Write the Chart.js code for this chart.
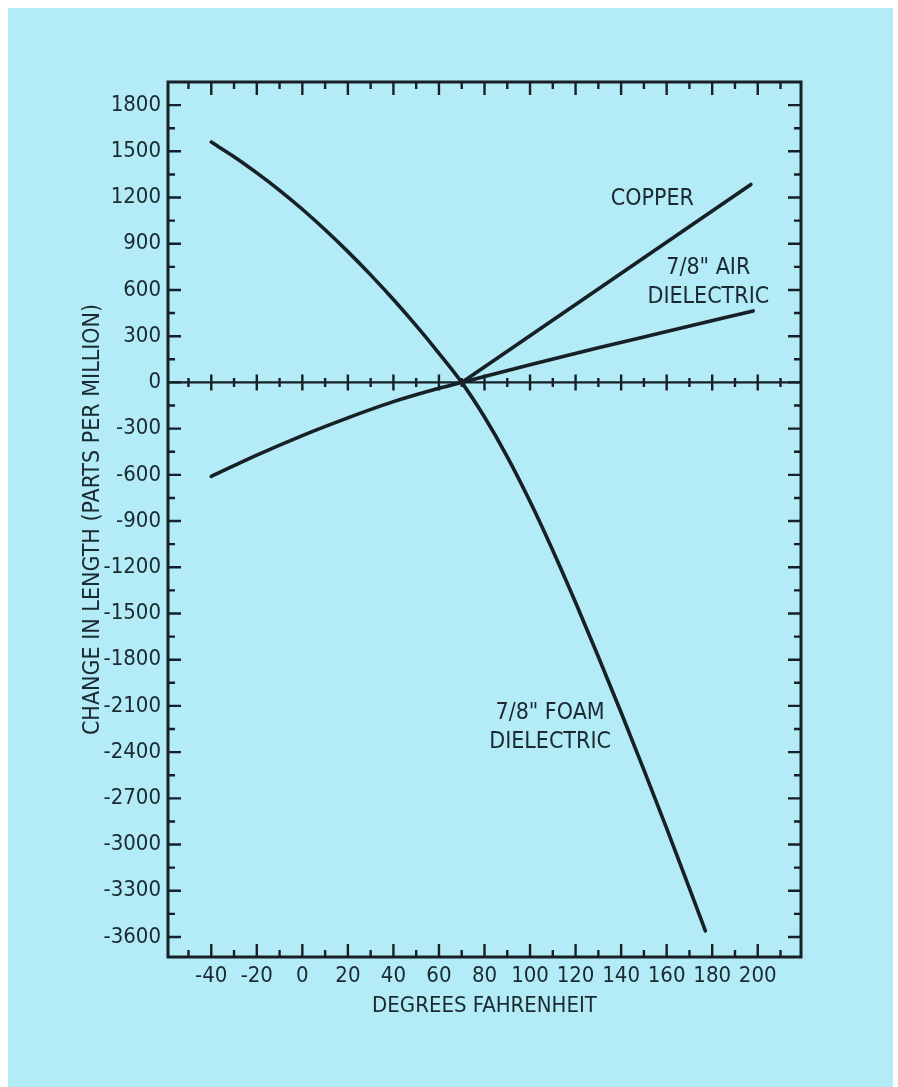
<!DOCTYPE html>
<html>
<head>
<meta charset="utf-8">
<script src="https://cdn.jsdelivr.net/npm/chart.js@4.4.1/dist/chart.umd.min.js"></script>
<style>
  html, body { margin: 0; padding: 0; background: #ffffff; }
  #wrap { width: 898px; height: 1087px; position: relative; }
  canvas { display: block; }
</style>
</head>
<body>
<div id="wrap"><canvas id="c" width="898" height="1087"></canvas></div>
<script>
// Temperature (°F) and change in length (parts per million), referenced to 70 °F
const foamTemps = [-40, -30, -20, -10, 0, 10, 20, 30, 40, 50, 60, 70, 80, 90, 100, 110, 120, 130, 140, 150, 160, 170, 177];
const foamPpm   = [1560, 1465, 1360, 1247, 1124, 991, 849, 698, 538, 368, 189, 0, -225, -483, -773, -1091, -1429, -1781, -2143, -2515, -2895, -3285, -3560];

const copperTemps = [70, 197];
const copperPpm   = [0, 1285];

const airTemps = [-40, -20, 0, 20, 40, 60, 70, 100, 130, 160, 198];
const airPpm   = [-610, -472, -345, -230, -125, -38, 0, 115, 225, 330, 464];

// Labelled tick values
const xLabelValues = [-40, -20, 0, 20, 40, 60, 80, 100, 120, 140, 160, 180, 200];
const yLabelValues = [1800, 1500, 1200, 900, 600, 300, 0, -300, -600, -900, -1200, -1500, -1800,
                      -2100, -2400, -2700, -3000, -3300, -3600];
// All tick marks (labelled and minor)
const xTickMarks = [-50, -40, -30, -20, -10, 0, 10, 20, 30, 40, 50, 60, 70, 80, 90, 100,
                    110, 120, 130, 140, 150, 160, 170, 180, 190, 200, 210];
const yTickMarks = [1800, 1650, 1500, 1350, 1200, 1050, 900, 750, 600, 450, 300, 150, 0,
                    -150, -300, -450, -600, -750, -900, -1050, -1200, -1350, -1500, -1650, -1800,
                    -1950, -2100, -2250, -2400, -2550, -2700, -2850, -3000, -3150, -3300, -3450, -3600];

const seriesNames = ['7/8" FOAM DIELECTRIC', 'COPPER', '7/8" AIR DIELECTRIC'];

const INK = 'rgb(22,32,38)';
const TEXT = 'rgb(26,42,48)';
const PAPER = 'rgb(179,235,246)';
const FONT = "'Liberation Sans Narrow', 'DejaVu Sans Condensed', 'Roboto Condensed', 'Liberation Sans', sans-serif";

const toPoints = (xs, ys) => xs.map((x, i) => ({ x: x, y: ys[i] }));

// Curve labels placed in data coordinates
const curveLabels = [
  { lines: ['COPPER'], x: 153.7, y: 1189 },
  { lines: ['7/8" AIR', 'DIELECTRIC'], x: 178.3, y: 741 },
  { lines: ['7/8" FOAM', 'DIELECTRIC'], x: 108.8, y: -2145 }
];

const framePlugin = {
  id: 'frame',
  beforeDraw(chart) {
    const ctx = chart.ctx;
    ctx.save();
    ctx.fillStyle = '#ffffff';
    ctx.fillRect(0, 0, chart.width, chart.height);
    ctx.fillStyle = PAPER;
    ctx.fillRect(8, 8, 885, chart.height - 8);
    ctx.restore();
  },
  beforeDatasetsDraw(chart) {
    const { ctx, chartArea: a, scales: { x, y } } = chart;
    ctx.save();
    ctx.strokeStyle = INK;
    ctx.lineCap = 'butt';
    // frame
    ctx.lineWidth = 3;
    ctx.strokeRect(a.left, a.top, a.right - a.left, a.bottom - a.top);
    // zero line
    const y0 = y.getPixelForValue(0);
    ctx.lineWidth = 2.2;
    ctx.beginPath();
    ctx.moveTo(a.left, y0);
    ctx.lineTo(a.right, y0);
    ctx.stroke();
    // x tick marks: top, bottom and across the zero line
    ctx.lineWidth = 2.4;
    ctx.beginPath();
    xTickMarks.forEach(v => {
      const px = x.getPixelForValue(v);
      const major = v % 20 === 0;
      const len = major ? 13 : 7;
      const half = major ? 8 : 4.5;
      ctx.moveTo(px, a.top); ctx.lineTo(px, a.top + len);
      ctx.moveTo(px, a.bottom); ctx.lineTo(px, a.bottom - len);
      ctx.moveTo(px, y0 - half); ctx.lineTo(px, y0 + half);
    });
    // y tick marks: left and right
    yTickMarks.forEach(v => {
      const py = y.getPixelForValue(v);
      const major = v % 300 === 0;
      const len = major ? 13 : 7;
      ctx.moveTo(a.left, py); ctx.lineTo(a.left + len, py);
      ctx.moveTo(a.right, py); ctx.lineTo(a.right - len, py);
    });
    ctx.stroke();
    ctx.restore();
  },
  afterDatasetsDraw(chart) {
    const { ctx, scales: { x, y } } = chart;
    ctx.save();
    ctx.fillStyle = TEXT;
    ctx.font = '23px ' + FONT;
    ctx.textAlign = 'center';
    ctx.textBaseline = 'middle';
    curveLabels.forEach(l => {
      const px = x.getPixelForValue(l.x);
      const py = y.getPixelForValue(l.y);
      l.lines.forEach((t, i) => ctx.fillText(t, px, py + i * 29));
    });
    ctx.restore();
  }
};

const lineStyle = {
  showLine: true,
  borderColor: INK,
  backgroundColor: INK,
  borderWidth: 3.6,
  pointRadius: 0,
  pointHoverRadius: 0,
  fill: false,
  borderCapStyle: 'round'
};

new Chart(document.getElementById('c'), {
  type: 'scatter',
  data: {
    datasets: [
      Object.assign({ label: seriesNames[0], data: toPoints(foamTemps, foamPpm), cubicInterpolationMode: 'monotone' }, lineStyle),
      Object.assign({ label: seriesNames[1], data: toPoints(copperTemps, copperPpm) }, lineStyle),
      Object.assign({ label: seriesNames[2], data: toPoints(airTemps, airPpm), cubicInterpolationMode: 'monotone' }, lineStyle)
    ]
  },
  options: {
    responsive: false,
    animation: false,
    events: [],
    layout: { padding: { left: 79, right: 97, top: 82, bottom: 68 } },
    plugins: { legend: { display: false }, tooltip: { enabled: false } },
    scales: {
      x: {
        type: 'linear',
        min: -59,
        max: 219,
        afterBuildTicks(scale) { scale.ticks = xLabelValues.map(v => ({ value: v })); },
        afterFit(scale) { scale.height = 62; },
        grid: { display: false, drawTicks: false },
        border: { display: false },
        ticks: { color: TEXT, font: { family: FONT, size: 22 }, padding: 6, maxRotation: 0, autoSkip: false,
                 callback: v => String(v) },
        title: { display: true, text: 'DEGREES FAHRENHEIT', color: TEXT, font: { family: FONT, size: 22 }, padding: 0 }
      },
      y: {
        type: 'linear',
        min: -3730,
        max: 1950,
        afterBuildTicks(scale) { scale.ticks = yLabelValues.map(v => ({ value: v })); },
        afterFit(scale) { scale.width = 89; },
        grid: { display: false, drawTicks: false },
        border: { display: false },
        ticks: { color: TEXT, font: { family: FONT, size: 22 }, padding: 7, autoSkip: false,
                 callback: v => String(v) },
        title: { display: true, text: 'CHANGE IN LENGTH (PARTS PER MILLION)', color: TEXT, font: { family: FONT, size: 23 }, padding: 0 }
      }
    }
  },
  plugins: [framePlugin]
});
</script>
</body>
</html>
